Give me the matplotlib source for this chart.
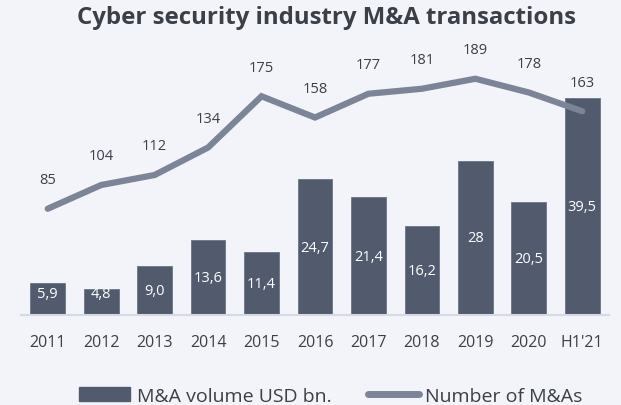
import matplotlib.pyplot as plt
import numpy as np
from matplotlib.patches import Patch
from matplotlib.lines import Line2D

# data
years = ['2011', '2012', '2013', '2014', '2015', '2016', '2017', '2018', '2019', '2020', "H1'21"]
volume = [5.9, 4.8, 9.0, 13.6, 11.4, 24.7, 21.4, 16.2, 28, 20.5, 39.5]
volume_labels = ['5,9', '4,8', '9,0', '13,6', '11,4', '24,7', '21,4', '16,2', '28', '20,5', '39,5']
deals = [85, 104, 112, 134, 175, 158, 177, 181, 189, 178, 163]

bg = '#f3f4f9'
bar_color = '#515b6d'
line_color = '#7c8498'
text_color = '#3a3f48'

plt.rcParams['font.family'] = ['Open Sans', 'DejaVu Sans']

fig = plt.figure(figsize=(6.21, 4.06), dpi=100, facecolor=bg)
ax = fig.add_axes([21 / 621, 1 - 316 / 406, 588 / 621, 256 / 406])
ax.set_facecolor(bg)

x = np.arange(len(years))
ax.bar(x, volume, width=0.65, color=bar_color, edgecolor='#6b7486', linewidth=0.6, zorder=2)
ax.set_xlim(-0.5, len(years) - 0.5)
ax.set_ylim(0, 256 / 5.5)

for xi, v, lab in zip(x, volume, volume_labels):
    ax.text(xi, max(v / 2, 4.0), lab, ha='center', va='center', color='white', fontsize=10.5, zorder=3)

for s in ['top', 'right', 'left']:
    ax.spines[s].set_visible(False)
ax.spines['bottom'].set_color('#d5d9e1')
ax.spines['bottom'].set_linewidth(1.5)
ax.set_yticks([])
ax.set_xticks(x)
ax.set_xticklabels(years, fontsize=11.5, color=text_color)
ax.tick_params(axis='x', length=0, pad=14)

# line on its own scale
ax2 = ax.twinx()
ax2.set_ylim(0, 256 / 1.25)
ax2.plot(x, deals, color=line_color, linewidth=4.5, solid_capstyle='round', solid_joinstyle='miter', zorder=4)
for xi, d in zip(x, deals):
    ax2.annotate(str(d), (xi, d), xytext=(0, 21), textcoords='offset points',
                 ha='center', va='center', fontsize=10.5, color=text_color)
ax2.set_yticks([])
for s in ax2.spines.values():
    s.set_visible(False)

fig.text(0.526, 1 - 18 / 406, 'Cyber security industry M&A transactions', ha='center', va='center',
         fontsize=17.3, fontweight='bold', color=text_color)

handles = [Patch(facecolor=bar_color, edgecolor=bar_color),
           Line2D([0], [0], color=line_color, linewidth=5, solid_capstyle='round')]
fig.legend(handles, ['M&A volume USD bn.', 'Number of M&As'], loc='center',
           bbox_to_anchor=(0.533, 1 - 397 / 406), ncol=2, frameon=False, fontsize=14,
           handlelength=2.6, handletextpad=0.35, columnspacing=1.9, labelcolor=text_color)

fig.savefig('out.png', dpi=100, facecolor=bg)
